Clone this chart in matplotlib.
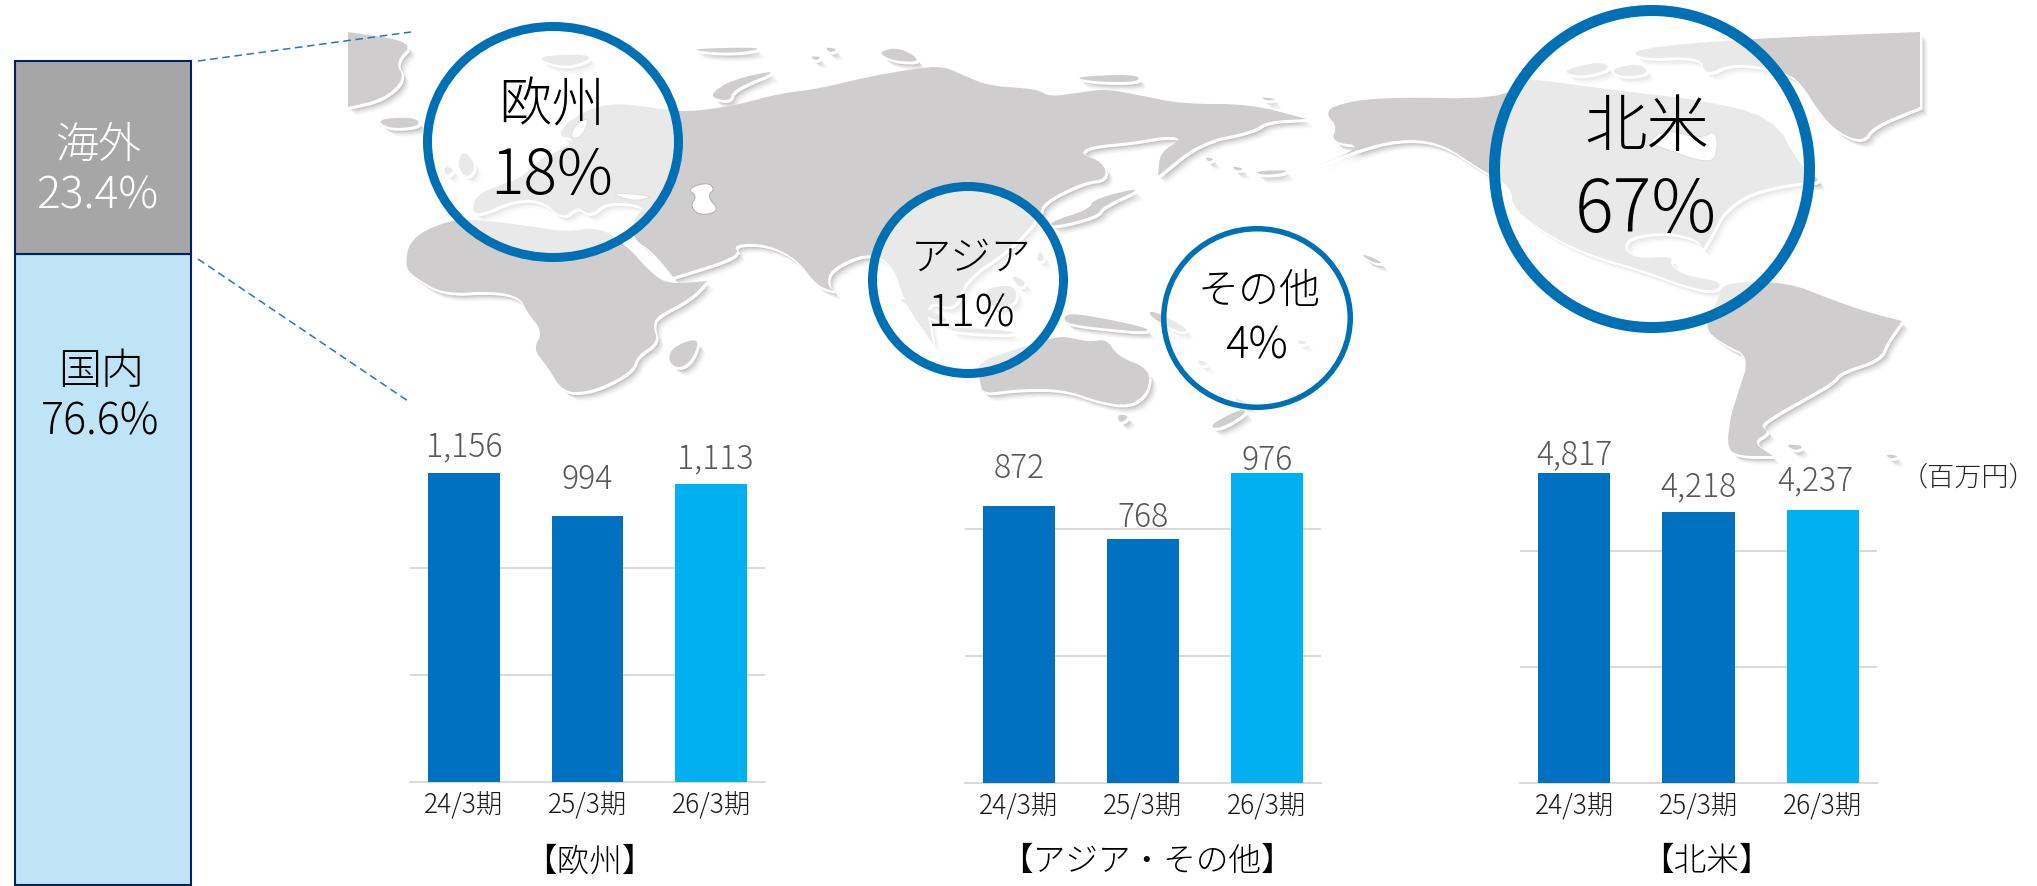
import matplotlib
matplotlib.use("Agg")
import matplotlib.pyplot as plt
from matplotlib.patches import Ellipse, Polygon
from matplotlib.colors import to_rgba

plt.rcParams['font.family'] = ['Noto Sans CJK JP', 'DejaVu Sans']
plt.rcParams['font.weight'] = 'light'

W, H = 2037, 887

# chart data
periods = ['24/3期', '25/3期', '26/3期']
europe = [1156, 994, 1113]
asia = [872, 768, 976]
namerica = [4817, 4218, 4237]
domestic_share = 76.6
overseas_share = 23.4

# map outlines in picture pixels, background decoration only
# a repeated point keeps that corner sharp when the outline gets rounded
eurasia = [(472, 215), (475, 197), (497, 187), (520, 180), (540, 160), (557, 153), (577, 140),
           (557, 137), (570, 120), (607, 103), (663, 110), (687, 113), (733, 107), (777, 95),
           (817, 90), (867, 78), (913, 70), (943, 67), (967, 78), (990, 87), (1037, 90),
           (1050, 98), (1083, 93), (1107, 90), (1143, 97), (1183, 105), (1250, 105), (1307, 120),
           (1307, 120), (1267, 122), (1253, 132), (1200, 143), (1158, 177), (1158, 177), (1158, 177),
           (1160, 153), (1183, 140), (1167, 137), (1133, 143), (1090, 147), (1080, 155), (1103, 163),
           (1107, 180), (1083, 183), (1043, 203), (1040, 217), (1010, 250), (965, 280), (955, 312),
           (925, 300), (933, 345), (933, 345), (905, 305), (893, 265), (867, 253), (830, 270),
           (827, 287), (837, 293), (817, 287), (797, 260), (767, 245), (733, 245), (740, 257),
           (673, 278), (673, 278), (653, 253), (633, 240), (633, 220), (647, 207), (607, 202),
           (590, 217), (577, 207), (563, 220), (540, 200), (510, 202), (487, 213)]
africa = [(405, 267), (410, 240), (443, 223), (472, 220), (530, 227), (565, 233), (600, 228),
          (625, 245), (655, 278), (672, 285), (707, 282), (707, 282), (690, 300), (657, 317),
          (653, 327), (658, 343), (637, 357), (633, 370), (613, 383), (587, 393), (563, 393),
          (547, 367), (533, 350), (543, 333), (527, 313), (520, 298), (493, 292), (443, 295),
          (413, 277)]
namerica_land = [(1327, 117), (1331, 107), (1377, 98), (1503, 100), (1516, 82), (1533, 80),
                 (1590, 88), (1647, 95), (1693, 100), (1773, 117), (1800, 167), (1823, 183),
                 (1800, 183), (1750, 193), (1723, 213), (1713, 233), (1703, 250), (1703, 250),
                 (1697, 240), (1667, 233), (1630, 237), (1623, 250), (1637, 260), (1673, 257),
                 (1670, 267), (1687, 277), (1723, 283), (1715, 293), (1685, 287), (1640, 270),
                 (1593, 257), (1550, 237), (1513, 210), (1511, 187), (1480, 170), (1440, 143),
                 (1397, 140), (1351, 153), (1317, 167), (1317, 167), (1364, 147), (1331, 143),
                 (1337, 127)]
samerica = [(1720, 297), (1725, 283), (1787, 283), (1830, 300), (1867, 313), (1902, 322), (1902, 322),
            (1887, 343), (1880, 360), (1840, 373), (1833, 383), (1803, 400), (1773, 417),
            (1760, 427), (1770, 433), (1752, 443), (1773, 457), (1773, 457), (1740, 457), (1727, 450),
            (1730, 420), (1737, 397), (1750, 357), (1723, 345), (1703, 328)]
australia = [(977, 363), (1017, 350), (1057, 337), (1077, 340), (1090, 343), (1107, 340),
             (1117, 357), (1150, 370), (1148, 393), (1130, 407), (1100, 403), (1063, 390),
             (1017, 390), (983, 395), (980, 383)]
greenland_left = [(348, 33), (348, 33), (348, 33), (415, 43), (395, 63), (405, 80), (383, 100),
                  (348, 108), (348, 108), (348, 108)]
greenland_right = [(1632, 50), (1740, 40), (1920, 33), (1920, 33), (1920, 33), (1920, 108), (1920, 108),
                   (1920, 108), (1873, 127), (1863, 143), (1837, 133), (1817, 110), (1803, 87),
                   (1787, 73), (1733, 63), (1706, 77), (1700, 57), (1640, 60)]
small_land = [
    [(376, 120), (415, 118), (421, 127), (389, 130)],
    [(672, 348), (700, 338), (693, 360), (680, 370), (668, 363)],
    [(707, 97), (733, 80), (783, 70), (733, 90), (730, 103)],
    [(680, 50), (770, 48), (733, 55)],
    [(530, 57), (600, 55), (567, 70)],
    [(877, 53), (900, 48), (923, 63), (893, 62)],
    [(1070, 78), (1137, 75), (1140, 83), (1097, 83)],
    [(1260, 98), (1278, 100), (1267, 102)],
    [(1050, 223), (1090, 210), (1093, 200), (1147, 187), (1103, 207), (1097, 217), (1053, 228)],
    [(1117, 415), (1130, 417), (1120, 425)],
    [(1067, 313), (1117, 322), (1150, 330), (1143, 333), (1110, 330), (1083, 327), (1063, 323)],
    [(1150, 310), (1190, 330), (1180, 334), (1150, 318)],
    [(1208, 427), (1240, 410), (1248, 413), (1220, 430)],
    [(1233, 397), (1253, 407), (1240, 405)],
    [(897, 297), (950, 320), (943, 325), (907, 307)],
    [(983, 290), (1015, 285), (1017, 305), (990, 310)],
    [(950, 328), (1015, 332), (1010, 336), (952, 333)],
    [(1010, 275), (1027, 283), (1020, 290)],
    [(1040, 250), (1045, 262), (1036, 262)],
    [(463, 150), (477, 167), (467, 180), (457, 167)],
    [(443, 167), (455, 170), (447, 178)],
    [(1360, 255), (1372, 258), (1384, 265), (1372, 263)],
    [(1197, 360), (1210, 365), (1200, 367)],
    [(1297, 341), (1309, 343), (1300, 346)],
    [(1785, 445), (1805, 447), (1795, 452)],
    [(1885, 455), (1900, 457), (1890, 460)],
    [(810, 57), (822, 58), (815, 62)],
    [(825, 48), (838, 50), (830, 54)],
    [(1205, 158), (1215, 160), (1208, 163)],
    [(1232, 167), (1245, 170), (1236, 172)],
    [(1255, 172), (1290, 171), (1280, 175), (1260, 176)],
    [(1560, 72), (1600, 62), (1612, 70), (1580, 78)],
    [(1610, 70), (1640, 64), (1650, 75), (1620, 78)],
]
water = [
    [(687, 190), (707, 183), (715, 190), (707, 197), (720, 212), (700, 217), (690, 207), (697, 197)],
    [(607, 193), (657, 197), (633, 203)],
    [(1646, 143), (1667, 130), (1700, 140), (1717, 130), (1717, 160), (1703, 163), (1673, 153)],
    [(575, 125), (590, 118), (582, 138), (570, 140)],
]

circles = [(553, 143, 130, 120, 9, '#0070B5'),
           (968, 281, 100, 98, 9, '#0070B5'),
           (1257, 319, 96, 92, 5.5, '#0070B5'),
           (1652, 170, 163, 164, 11, '#0070B5')]
circle_labels = [('欧州', 552, 107, 38.5), ('アジア', 971, 259, 29),
                 ('その他', 1259, 291, 29.5), ('北米', 1647, 129, 45)]
circle_shares = [('18%', 552, 177, 45), ('11%', 972, 314, 32),
                 ('4%', 1257, 346, 31.5), ('67%', 1646, 212, 52)]

fig = plt.figure(figsize=(W / 100, H / 100), dpi=100, facecolor='white')


def px_axes(left, top, right, bottom, z=1):
    ax = fig.add_axes([left / W, 1 - bottom / H, (right - left) / W, (bottom - top) / H], zorder=z)
    ax.patch.set_alpha(0)
    return ax


def full_axes(z):
    ax = fig.add_axes([0, 0, 1, 1], zorder=z)
    ax.patch.set_alpha(0)
    ax.set_xlim(0, W)
    ax.set_ylim(H, 0)
    ax.axis('off')
    return ax


def rounded(points, rounds=2):
    # corner cutting so the coasts do not look like straight segments
    for _ in range(rounds):
        out = []
        for i, (x0, y0) in enumerate(points):
            x1, y1 = points[(i + 1) % len(points)]
            out.append((0.75 * x0 + 0.25 * x1, 0.75 * y0 + 0.25 * y1))
            out.append((0.25 * x0 + 0.75 * x1, 0.25 * y0 + 0.75 * y1))
        points = out
    return points


bg = full_axes(0)
fg = full_axes(5)


def land(points):
    points = rounded(points)
    # soft shadow, white rim, then the grey land
    for dx, dy, a in [(8, 9, 0.03), (7, 8, 0.04), (6, 7, 0.05), (5, 6, 0.07), (4, 5, 0.09),
                      (3, 4, 0.12), (2, 3, 0.25)]:
        bg.add_patch(Polygon([(x + dx, y + dy) for x, y in points], closed=True,
                             fc='#606060', ec='none', alpha=a, zorder=1))
    bg.add_patch(Polygon([(x + 1.5, y + 2) for x, y in points], closed=True,
                         fc='white', ec='white', lw=1.5, zorder=2))
    bg.add_patch(Polygon(points, closed=True, fc='#CFCDCE', ec='none', zorder=3))


for shape in [eurasia, africa, namerica_land, samerica, australia, greenland_left, greenland_right] + small_land:
    land(shape)
for shape in water:
    bg.add_patch(Polygon(rounded(shape), closed=True, fc='white', ec='#B4B4B4', lw=0.8, zorder=4))

for cx, cy, rx, ry, lw, col in circles:
    bg.add_patch(Ellipse((cx, cy), 2 * rx - lw, 2 * ry - lw, fc=to_rgba('white', 0.58),
                         ec=col, lw=lw * 0.72, zorder=5))
for txt, x, y, size in circle_labels + circle_shares:
    fg.text(x, y, txt, fontsize=size, color='black', ha='center', va='center')

# leader lines from the share bar
fg.plot([198, 411], [62, 33], color='#2E75B6', lw=1.1, ls=(0, (5, 3)))
fg.plot([198, 408], [260, 402], color='#2E75B6', lw=1.1, ls=(0, (5, 3)))

# domestic / overseas share bar
share = px_axes(15, 62, 191, 886)
share.bar([0], [domestic_share], width=1, color='#BFE4F5', edgecolor='#002060', lw=1.5, clip_on=False)
share.bar([0], [overseas_share], width=1, bottom=[domestic_share], color='#A6A6A6',
          edgecolor='#002060', lw=1.5, clip_on=False)
share.set_xlim(-0.5, 0.5)
share.set_ylim(0, 100)
share.axis('off')
fg.text(98, 145, '海外', fontsize=31, color='white', ha='center', va='center')
fg.text(97, 196, f'{overseas_share}%', fontsize=32, color='white', ha='center', va='center')
fg.text(101, 372, '国内', fontsize=31, color='black', ha='center', va='center')
fg.text(100, 422, f'{domestic_share}%', fontsize=31, color='black', ha='center', va='center')

# left/right pixel edges, grid ticks, label offsets above bar (px), label x shift (px)
charts = [
    (410, 765, 783, europe, [400, 800], [27, 38, 26], [0, 0, 4], '【欧州】', 589),
    (965, 1321, 784, asia, [400, 800], [38, 22, 13], [0, 0, 0], '【アジア・その他】', 1147),
    (1520, 1877, 784, namerica, [1800, 3600], [19, 25, 30], [0, 0, -7], '【北米】', 1706),
]
bar_colors = ['#0070C0', '#0070C0', '#00B0F0']
for left, right, base, values, grid, lift, shift, title, title_x in charts:
    ax = px_axes(left, 474, right, base, z=2)
    xs = list(range(len(values)))
    ax.bar(xs, values, width=0.58, color=bar_colors, zorder=3)
    ax.set_xlim(-0.435, 2.435)
    ax.set_ylim(0, max(values))
    ax.set_yticks(grid)
    ax.grid(axis='y', color='#D9D9D9', lw=1.4, zorder=0)
    ax.set_axisbelow(True)
    ax.tick_params(axis='y', length=0, labelleft=False)
    ax.tick_params(axis='x', length=0, pad=6, labelsize=19, labelcolor='#1A1A1A')
    ax.set_xticks(xs)
    ax.set_xticklabels(periods)
    for side in ['top', 'left', 'right']:
        ax.spines[side].set_visible(False)
    ax.spines['bottom'].set_color('#D9D9D9')
    ax.spines['bottom'].set_linewidth(1.4)
    for x, v, up, dx in zip(xs, values, lift, shift):
        ax.annotate(f'{v:,}', (x, v), xytext=(dx * 0.72, up * 0.72), textcoords='offset points',
                    ha='center', va='center', fontsize=23, color='#595959',
                    annotation_clip=False, zorder=5)
    fg.text(title_x, 862, title, fontsize=23.5, color='black', ha='center', va='center')

fg.text(1968, 477, '（百万円）', fontsize=19.5, color='#262626', ha='center', va='center')

fig.savefig('out.png', dpi=100)
